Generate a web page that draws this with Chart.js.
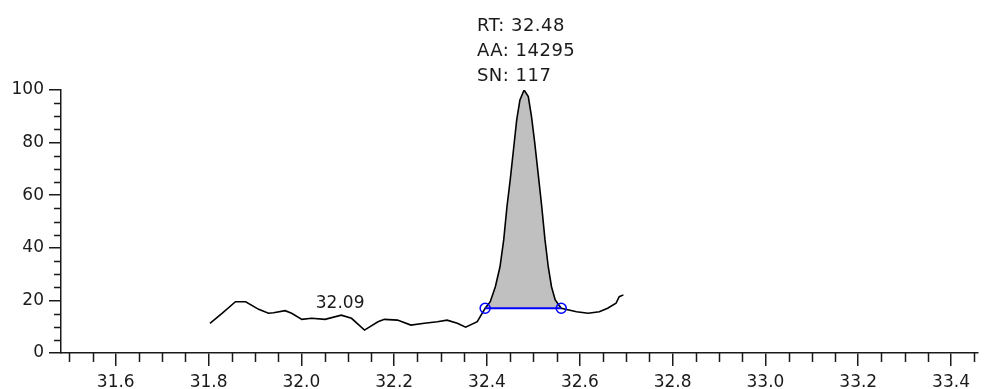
<!DOCTYPE html>
<html>
<head>
<meta charset="utf-8">
<title>Chromatogram</title>
<script src="https://cdn.jsdelivr.net/npm/chart.js@4/dist/chart.umd.min.js"></script>
<style>
    html, body { margin: 0; padding: 0; background: #fff; }
    #wrap { width: 984px; height: 389px; position: relative; }
</style>
</head>
<body>
<div id="wrap"><canvas id="chromChart"></canvas></div>
<script>
// retention time (min) / relative abundance (%)
const traceX = [
    31.803, 31.829, 31.858, 31.880, 31.908, 31.929, 31.940, 31.965, 31.979, 32.001,
    32.022, 32.051, 32.086, 32.108, 32.136, 32.165, 32.179, 32.207, 32.236, 32.265,
    32.293, 32.314, 32.336, 32.354, 32.379, 32.396, 32.407, 32.418, 32.428, 32.436,
    32.443, 32.450, 32.457, 32.464, 32.471, 32.480, 32.489, 32.496, 32.503, 32.511,
    32.518, 32.525, 32.532, 32.539, 32.547, 32.560, 32.593, 32.618, 32.642, 32.660,
    32.678, 32.685, 32.694
];
const traceY = [
    11.3, 15.1, 19.5, 19.5, 16.6, 15.1, 15.3, 16.1, 15.1, 12.8,
    13.2, 12.8, 14.4, 13.2, 8.7, 11.9, 12.8, 12.5, 10.6, 11.3,
    11.9, 12.5, 11.3, 9.8, 11.9, 17.0, 19.5, 25.2, 32.8, 43.0,
    55.6, 65.8, 77.2, 88.6, 96.2, 100.0, 97.5, 89.8, 79.7, 67.0,
    55.6, 43.0, 32.8, 25.2, 20.2, 17.0, 15.7, 15.1, 15.7, 17.0,
    18.9, 21.4, 22.1
];

// integrated peak: start / end of the baseline
const baseX = [32.396, 32.560];
const baseY = [17.0, 17.0];

// peak annotations
const peakRT = 32.48;
const peakTop = 100;
const peakLabels = ['RT: 32.48', 'AA: 14295', 'SN: 117'];
const minorPeakRT = 32.09;
const minorPeakY = 14.4;
const minorPeakLabel = '32.09';

// axis ranges and tick steps
const xRange = [31.482, 33.457];
const yRange = [0, 100];
const xStep = 0.05;
const xLabelEvery = 0.2;
const yStep = 5;
const yLabelEvery = 20;

const FONT = "'DejaVu Sans', sans-serif";
const INK = '#1a1a1a';

const isMultiple = (v, step) => Math.abs(v / step - Math.round(v / step)) < 1e-6;

// short tick marks between labelled ones
const minorTicks = {
    id: 'minorTicks',
    afterDraw(chart) {
        const ctx = chart.ctx;
        const xs = chart.scales.x;
        const ys = chart.scales.y;
        ctx.save();
        ctx.strokeStyle = INK;
        ctx.lineWidth = 1.5;
        ctx.beginPath();
        xs.ticks.forEach(t => {
            if (isMultiple(t.value, xLabelEvery)) return;
            const px = Math.round(xs.getPixelForValue(t.value)) + 0.5;
            ctx.moveTo(px, xs.top);
            ctx.lineTo(px, xs.top + 9);
        });
        ys.ticks.forEach(t => {
            if (isMultiple(t.value, yLabelEvery)) return;
            const py = Math.round(ys.getPixelForValue(t.value)) + 0.5;
            ctx.moveTo(ys.right - 7, py);
            ctx.lineTo(ys.right, py);
        });
        ctx.stroke();
        ctx.restore();
    }
};

// peak labels
const peakNotes = {
    id: 'peakNotes',
    afterDatasetsDraw(chart) {
        const ctx = chart.ctx;
        const xs = chart.scales.x;
        const ys = chart.scales.y;
        ctx.save();
        ctx.fillStyle = INK;
        ctx.textBaseline = 'alphabetic';

        ctx.font = '17px ' + FONT;
        ctx.textAlign = 'center';
        ctx.fillText(minorPeakLabel, xs.getPixelForValue(minorPeakRT) - 3, ys.getPixelForValue(minorPeakY) - 7);

        ctx.font = '18px ' + FONT;
        ctx.letterSpacing = '0.5px';
        ctx.textAlign = 'left';
        const widths = peakLabels.map(s => ctx.measureText(s).width);
        const left = xs.getPixelForValue(peakRT) - Math.max(...widths) / 2 + 2;
        const bottom = ys.getPixelForValue(peakTop) - 9;
        peakLabels.forEach((s, i) => {
            ctx.fillText(s, left, bottom - (peakLabels.length - 1 - i) * 25);
        });
        ctx.restore();
    }
};

function buildChart() {
    const points = traceX.map((x, i) => ({ x, y: traceY[i] }));
    const i0 = traceX.indexOf(baseX[0]);
    const i1 = traceX.indexOf(baseX[1]);
    const peakPoints = points.slice(i0, i1 + 1);
    const basePoints = baseX.map((x, i) => ({ x, y: baseY[i] }));

    const ctx = document.getElementById('chromChart').getContext('2d');
    return new Chart(ctx, {
        type: 'scatter',
        data: {
            datasets: [
                {
                    label: 'baseline',
                    data: basePoints,
                    showLine: true,
                    borderColor: '#0000ff',
                    borderWidth: 2,
                    pointRadius: 5,
                    pointBorderWidth: 1.5,
                    pointBorderColor: '#0000ff',
                    pointBackgroundColor: 'rgba(0,0,0,0)',
                    order: 1
                },
                {
                    label: 'trace',
                    data: points,
                    showLine: true,
                    borderColor: '#000',
                    borderWidth: 1.6,
                    pointRadius: 0,
                    tension: 0,
                    order: 2
                },
                {
                    label: 'area',
                    data: peakPoints,
                    showLine: true,
                    borderWidth: 0,
                    borderColor: 'rgba(0,0,0,0)',
                    backgroundColor: '#c0c0c0',
                    fill: { value: baseY[0] },
                    pointRadius: 0,
                    tension: 0,
                    order: 3
                }
            ]
        },
        options: {
            responsive: true,
            maintainAspectRatio: false,
            animation: false,
            layout: { padding: { top: 90, right: 0, left: 0, bottom: 0 } },
            plugins: {
                legend: { display: false },
                tooltip: { enabled: false }
            },
            scales: {
                x: {
                    type: 'linear',
                    position: 'bottom',
                    min: xRange[0],
                    max: xRange[1],
                    afterFit: (s) => { s.height = 36; },
                    border: { display: true, color: INK, width: 1.5 },
                    grid: {
                        display: true,
                        drawOnChartArea: false,
                        tickLength: 13,
                        lineWidth: 1.5,
                        color: (c) => (c.tick && isMultiple(c.tick.value, xLabelEvery)) ? INK : 'rgba(0,0,0,0)'
                    },
                    ticks: {
                        stepSize: xStep,
                        includeBounds: false,
                        autoSkip: false,
                        maxRotation: 0,
                        minRotation: 0,
                        padding: 6,
                        color: INK,
                        font: { family: FONT, size: 17 },
                        callback: (v) => isMultiple(v, xLabelEvery) ? Number(v).toFixed(1) : ''
                    }
                },
                y: {
                    type: 'linear',
                    min: yRange[0],
                    max: yRange[1],
                    afterFit: (s) => { s.width = 61; },
                    border: { display: true, color: INK, width: 1.5 },
                    grid: {
                        display: true,
                        drawOnChartArea: false,
                        tickLength: 12,
                        lineWidth: 1.5,
                        color: (c) => (c.tick && isMultiple(c.tick.value, yLabelEvery)) ? INK : 'rgba(0,0,0,0)'
                    },
                    ticks: {
                        stepSize: yStep,
                        autoSkip: false,
                        padding: 5,
                        color: INK,
                        font: { family: FONT, size: 17 },
                        callback: (v) => isMultiple(v, yLabelEvery) ? String(v) : ''
                    }
                }
            }
        },
        plugins: [minorTicks, peakNotes]
    });
}

document.addEventListener('DOMContentLoaded', () => {
    if (typeof Chart === 'undefined') {
        console.error('Chart.js is not loaded!');
        return;
    }
    buildChart();
});
</script>
</body>
</html>
